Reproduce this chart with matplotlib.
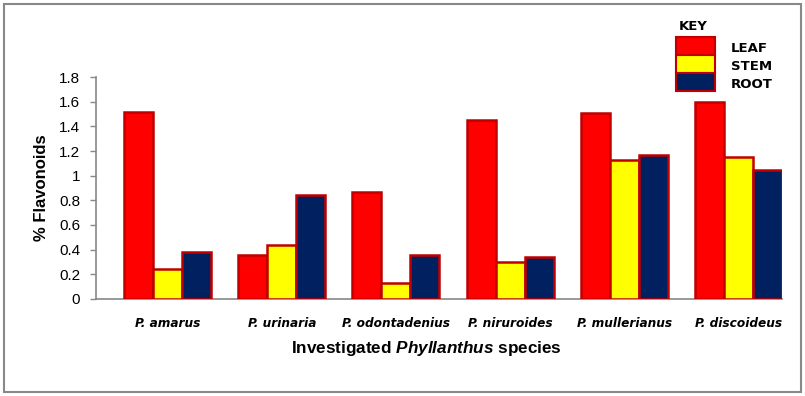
import numpy as np
import matplotlib
matplotlib.use('Agg')
import matplotlib.pyplot as plt
from matplotlib.patches import Rectangle

species = ['P. amarus', 'P. urinaria', 'P. odontadenius', 'P. niruroides',
           'P. mullerianus', 'P. discoideus']
leaf = [1.52, 0.36, 0.865, 1.455, 1.51, 1.595]
stem = [0.245, 0.435, 0.13, 0.30, 1.13, 1.155]
root = [0.38, 0.845, 0.36, 0.34, 1.165, 1.045]

parts = ['LEAF', 'STEM', 'ROOT']
colors = ['#FF0000', '#FFFF00', '#002060']
edge = '#C00000'

plt.rcParams['mathtext.fontset'] = 'custom'
plt.rcParams['mathtext.rm'] = 'Liberation Sans:bold'
plt.rcParams['mathtext.bfit'] = 'Liberation Sans:bold:italic'
plt.rcParams['mathtext.it'] = 'Liberation Sans:bold:italic'

W, H = 805, 396
fig = plt.figure(figsize=(W / 100, H / 100), dpi=100)
ax = fig.add_axes([96 / W, (H - 299) / H, (782 - 96) / W, (299 - 77) / H])

x = np.arange(len(species))
w = 0.254
for i, (vals, c) in enumerate(zip([leaf, stem, root], colors)):
    ax.bar(x + (i - 1) * w, vals, width=w, color=c, edgecolor=edge,
           linewidth=1.8, zorder=3)

ax.set_xlim(-0.626, 5.381)
ax.set_ylim(0, 1.8)
ax.set_yticks(np.arange(0, 1.81, 0.2))
ax.set_yticklabels(['0', '0.2', '0.4', '0.6', '0.8', '1', '1.2', '1.4', '1.6', '1.8'],
                   fontfamily='Liberation Sans', fontsize=11)
ax.set_xticks(x)
ax.set_xticklabels(species, fontfamily='DejaVu Sans', fontweight='bold',
                   fontstyle='oblique', fontsize=8.7)
ax.tick_params(axis='x', length=0, pad=13)
ax.tick_params(axis='y', length=4.3, width=1, color='#888888', pad=7)
for s in ['top', 'right']:
    ax.spines[s].set_visible(False)
for s in ['left', 'bottom']:
    ax.spines[s].set_color('#888888')
    ax.spines[s].set_linewidth(1.2)

ax.set_ylabel('% Flavonoids', fontfamily='Liberation Sans', fontweight='bold',
              fontsize=12, labelpad=7)

fig.text(426 / W, 1 - 349 / H, r'Investigated $\mathbfit{Phyllanthus}$ species',
         ha='center', va='center', fontfamily='Liberation Sans', fontweight='bold',
         fontsize=12.3)

# key
fig.text(693 / W, 1 - 26 / H, 'KEY', ha='center', va='center',
         fontfamily='DejaVu Sans', fontweight='bold', fontsize=9.5)
tops = [37, 55, 73]
for t, c, lab in zip(tops, colors, parts):
    fig.add_artist(Rectangle((676 / W, 1 - (t + 18) / H), 39 / W, 18 / H,
                             transform=fig.transFigure, facecolor=c,
                             edgecolor=edge, linewidth=1.5))
    fig.text(731 / W, 1 - (t + 11) / H, lab, ha='left', va='center',
             fontfamily='DejaVu Sans', fontweight='bold', fontsize=9.5)

# outer frame
fig.add_artist(Rectangle((4 / W, 4 / H), 797 / W, 388 / H,
                         transform=fig.transFigure, facecolor='none',
                         edgecolor='#888888', linewidth=1.5))

plt.savefig('out.png', dpi=100)
